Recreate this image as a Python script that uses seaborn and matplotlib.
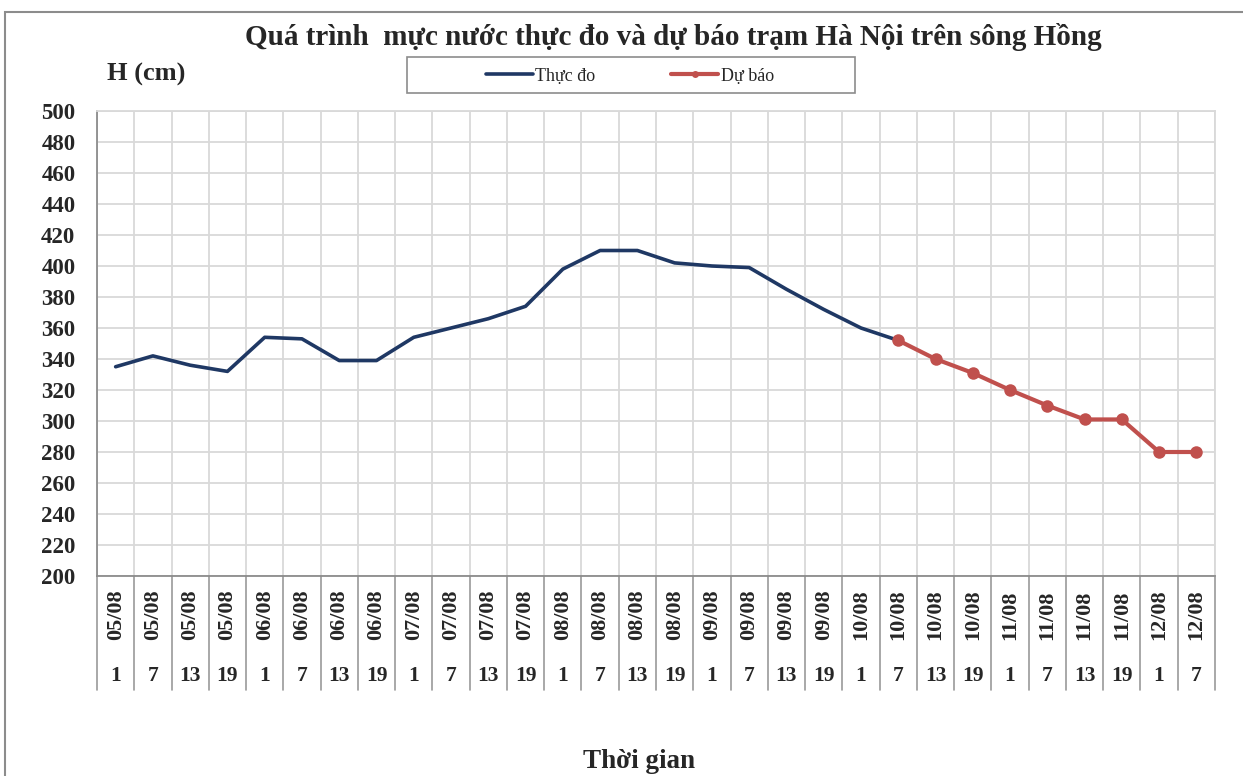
"""
Water level at Ha Noi station on the Red River: observed vs forecast
"""

import numpy as np
import pandas as pd
import matplotlib
matplotlib.use("Agg")
import matplotlib.pyplot as plt
import matplotlib.transforms as mtransforms
import seaborn as sns
from matplotlib.lines import Line2D
from matplotlib.patches import Rectangle
from matplotlib.font_manager import FontProperties

# ---- data ----
date_labels = ["05/08", "05/08", "05/08", "05/08", "06/08", "06/08", "06/08", "06/08",
               "07/08", "07/08", "07/08", "07/08", "08/08", "08/08", "08/08", "08/08",
               "09/08", "09/08", "09/08", "09/08", "10/08", "10/08", "10/08", "10/08",
               "11/08", "11/08", "11/08", "11/08", "12/08", "12/08"]
hour_labels = ["1", "7", "13", "19", "1", "7", "13", "19", "1", "7", "13", "19",
               "1", "7", "13", "19", "1", "7", "13", "19", "1", "7", "13", "19",
               "1", "7", "13", "19", "1", "7"]
actual = [335, 342, 336, 332, 354, 353, 339, 339, 354, 360, 366, 374,
          398, 410, 410, 402, 400, 399, 385, 372, 360, 352]
forecast = [352, 340, 331, 320, 310, 301, 301, 280, 280]
forecast_start = 21

title = "Quá trình  mực nước thực đo và dự báo trạm Hà Nội trên sông Hồng"
actual_name = "Thực đo"
forecast_name = "Dự báo"

W, H = 1243, 776

sns.set_style("white")
plt.rcParams['font.family'] = ['Liberation Serif', 'DejaVu Serif']

fig = plt.figure(figsize=(W / 100, H / 100), dpi=100)
ax = fig.add_axes([97 / W, 1 - 576 / H, (1215 - 97) / W, 465 / H])

actual_df = pd.DataFrame({"pos": np.arange(len(actual)), "H": actual})
forecast_df = pd.DataFrame({"pos": np.arange(forecast_start, forecast_start + len(forecast)),
                            "H": forecast})

navy = "#1f3864"
red = "#c0504d"
sns.lineplot(data=actual_df, x="pos", y="H", color=navy, lw=2.6, ax=ax, legend=False)
sns.lineplot(data=forecast_df, x="pos", y="H", color=red, lw=3.0, marker="o",
             markersize=9, markeredgewidth=0, ax=ax, legend=False)

n = len(date_labels)
ax.set_xlim(-0.5, n - 0.5)
ax.set_ylim(200, 500)
ax.set_yticks(range(200, 501, 20))
ax.set_xticks(np.arange(-0.5, n, 1))
ax.set_xticklabels([])
ax.set_xlabel("")
ax.set_ylabel("")
ax.tick_params(axis="both", length=0)
ax.tick_params(axis="y", pad=15.5)
for lab in ax.get_yticklabels():
    lab.set_fontweight("bold")
    lab.set_fontsize(16.5)
ax.grid(True, color="#d9d9d9", lw=1.3)
ax.set_axisbelow(True)

for side in ["top", "right"]:
    ax.spines[side].set_color("#d9d9d9")
    ax.spines[side].set_linewidth(1.3)
for side in ["left", "bottom"]:
    ax.spines[side].set_color("#8c8c8c")
    ax.spines[side].set_linewidth(1.3)

# two-level category axis
trans = mtransforms.blended_transform_factory(ax.transData, ax.transAxes)
sep_bottom = -(690 - 576) / 465
for b in np.arange(-0.5, n, 1):
    ax.plot([b, b], [0, sep_bottom], transform=trans, color="#9a9a9a", lw=1.2, clip_on=False)
for i, (d, h) in enumerate(zip(date_labels, hour_labels)):
    ax.text(i, -(615 - 576) / 465, d, transform=trans, rotation=90, ha="center", va="center",
            fontsize=16, fontweight="bold")
    ax.text(i, -(676 - 576) / 465, h, transform=trans, ha="center", va="center",
            fontsize=15.5, fontweight="bold")

# texts
fig.text(673 / W, 1 - 37 / H, title, ha="center", va="center", fontsize=21, fontweight="bold")
fig.text(107 / W, 1 - 74 / H, "H (cm)", ha="left", va="center", fontsize=19, fontweight="bold")
fig.text(639 / W, 1 - 762 / H, "Thời gian", ha="center", va="center", fontsize=19.5, fontweight="bold")

# legend
handles = [Line2D([], [], color=navy, lw=2.6),
           Line2D([], [], color=red, lw=3.0, marker="o", markersize=5, markeredgewidth=0)]
fig.legend(handles, [actual_name, forecast_name], loc="center",
           bbox_to_anchor=(630 / W, 1 - 76 / H), ncol=2, frameon=False,
           prop=FontProperties(family=["Liberation Serif"], size=13),
           handlelength=2.6, handletextpad=0.15, columnspacing=4.2)
fig.add_artist(Rectangle((407 / W, 1 - 93 / H), 448 / W, 36 / H, transform=fig.transFigure,
                         fill=False, ec="#8c8c8c", lw=1.2))

# outer chart frame (cut off at the right and bottom)
fig.add_artist(Rectangle((5 / W, -0.1), 1.2, (1 - 12 / H) + 0.1, transform=fig.transFigure,
                         fill=False, ec="#8c8c8c", lw=1.5))

fig.savefig("out.png", dpi=100)
